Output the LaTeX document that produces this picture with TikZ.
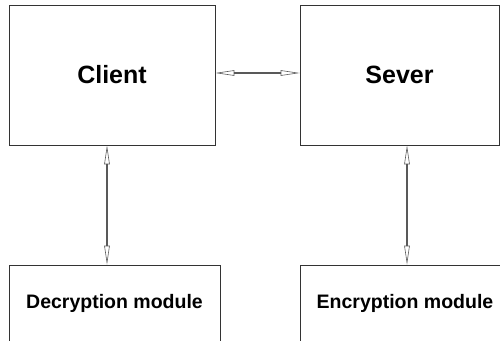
\documentclass[tikz,border=0pt]{standalone}
\usepackage{fontspec}
\setmainfont{Liberation Sans}
\usepackage{tikz}
\usetikzlibrary{positioning,arrows.meta}
\tikzset{
	block/.style    = {shape=rectangle, draw=black!80, line width=0.6pt,
		align=center, inner sep=0pt, font=\bfseries\fontsize{25}{30}\selectfont},
	modblock/.style = {block, font=\bfseries\fontsize{19.5}{23}\selectfont},
	link/.style     = {draw=black!65, line width=1.1pt,
		{Triangle[open, length=19pt, width=5.5pt, line width=0.6pt]}-{Triangle[open, length=19pt, width=5.5pt, line width=0.6pt]}}
}
\begin{document}
\begin{tikzpicture}[x=1pt, y=-1pt]
\useasboundingbox (0,0) rectangle (500,340);
% boxes
\node [block, minimum width=206pt, minimum height=140pt] (client) at (112,75) {Client};
\node [block, minimum width=199pt, minimum height=140pt] (sever) at (399.5,75) {Sever};
\node [modblock, minimum width=211pt, minimum height=77pt] (dec) at (114.5,303.5) {Decryption module};
\node [modblock, minimum width=210pt, minimum height=77pt] (enc) at (405,303.5) {Encryption module};
% connectors
\draw [link] ([yshift=2pt]client.east) -- ([yshift=2pt]client.east -| sever.west);
\draw [link] ([xshift=-5pt]client.south) -- ([xshift=-5pt]client.south |- dec.north);
\draw [link] ([xshift=2pt]enc.north |- sever.south) -- ([xshift=2pt]enc.north);
\end{tikzpicture}
\end{document}
